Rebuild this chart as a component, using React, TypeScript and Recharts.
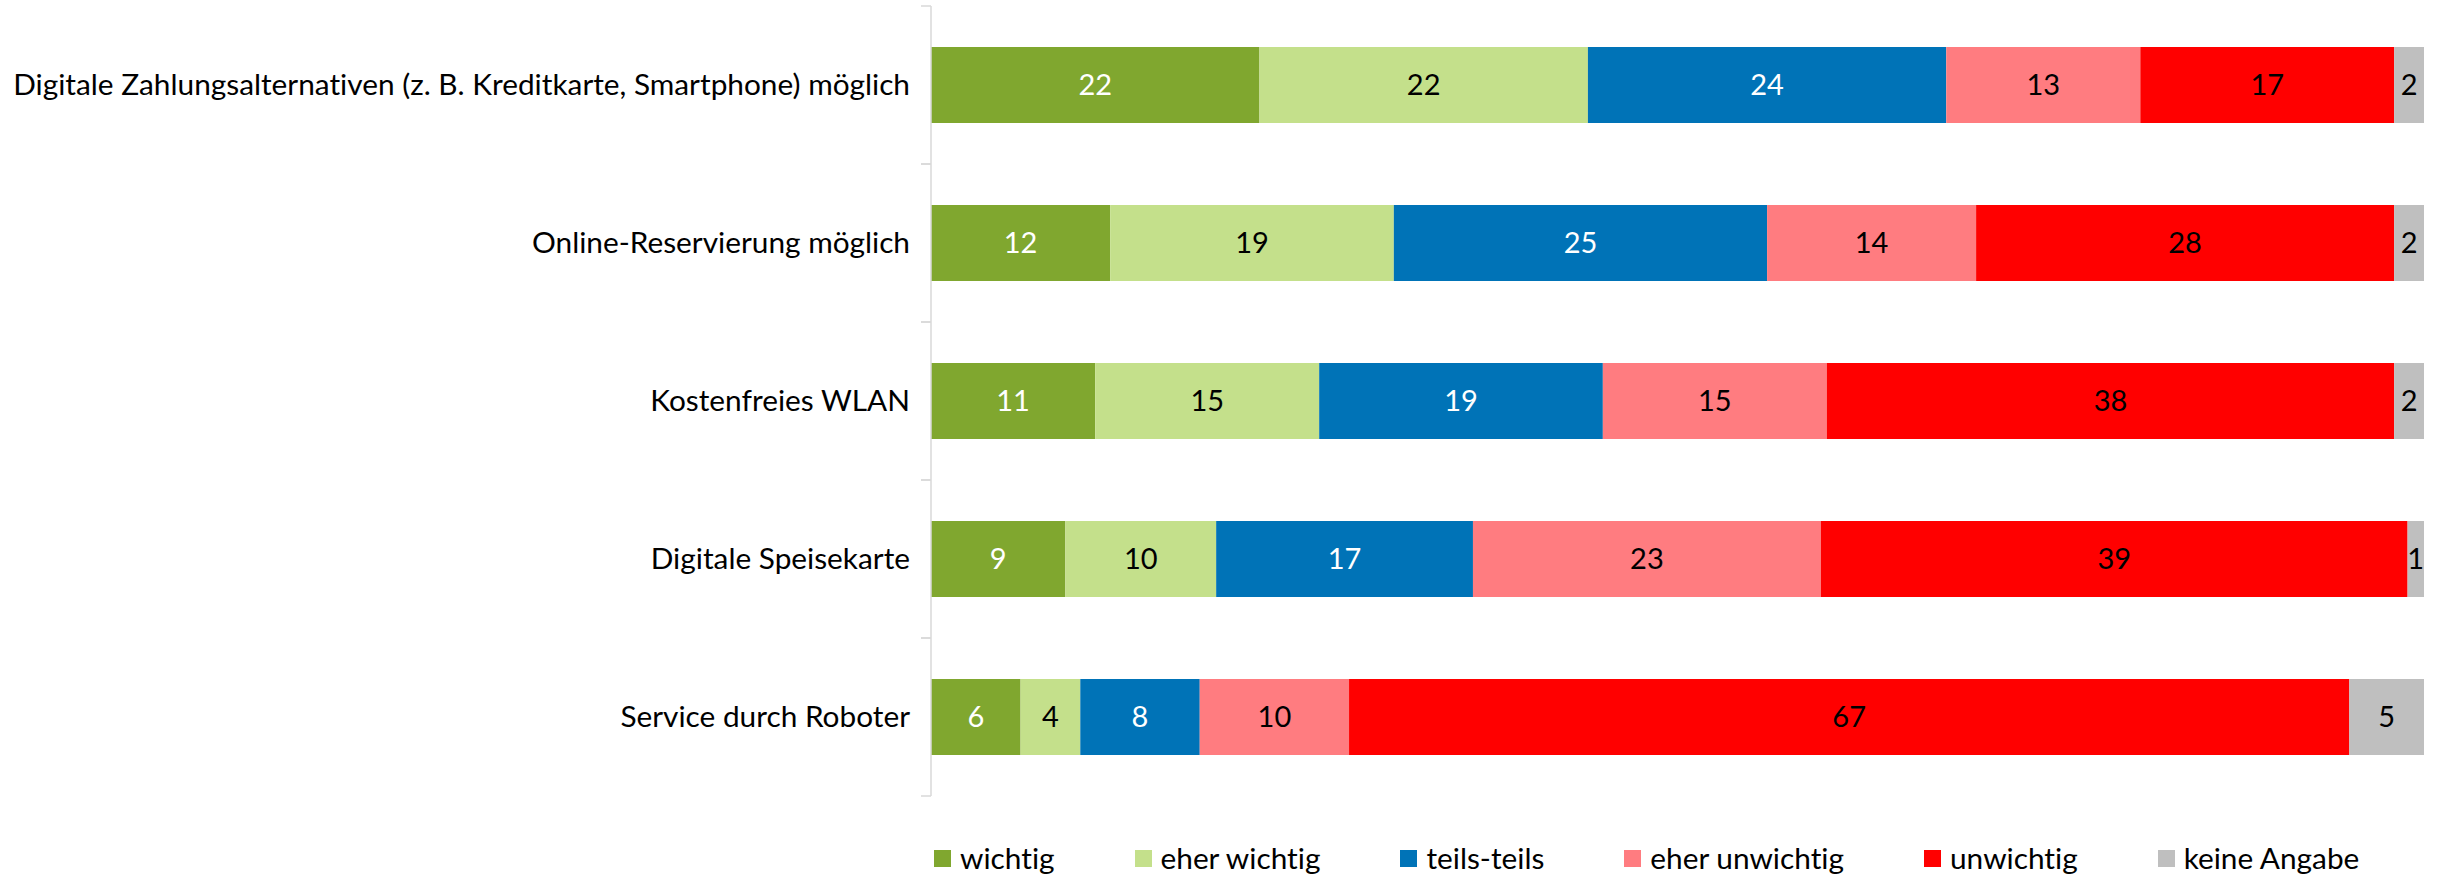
import React from 'react';
import { BarChart, Bar, XAxis, YAxis, LabelList } from 'recharts';

// Kategorien (von oben nach unten)
const categories = [
  'Digitale Zahlungsalternativen (z. B. Kreditkarte, Smartphone) möglich',
  'Online-Reservierung möglich',
  'Kostenfreies WLAN',
  'Digitale Speisekarte',
  'Service durch Roboter',
];

// Werte in Prozent
const wichtig = [22, 12, 11, 9.0, 6];
const eherWichtig = [22, 19, 15, 10.1, 4];
const teilsTeils = [24, 25, 19, 17.2, 8];
const eherUnwichtig = [13, 14, 15, 23.3, 10];
const unwichtig = [17, 28, 38, 39.3, 67];
const keineAngabe = [2, 2, 2, 1.1, 5];

const seriesKeys = ['wichtig', 'eherWichtig', 'teilsTeils', 'eherUnwichtig', 'unwichtig', 'keineAngabe'];
const seriesNames = ['wichtig', 'eher wichtig', 'teils-teils', 'eher unwichtig', 'unwichtig', 'keine Angabe'];
const seriesValues = [wichtig, eherWichtig, teilsTeils, eherUnwichtig, unwichtig, keineAngabe];

const COLORS = ['#80A72F', '#C4E08B', '#0073B7', '#FF7C80', '#FF0000', '#BFBFBF'];
const LABEL_COLORS = ['#FFFFFF', '#000000', '#FFFFFF', '#000000', '#000000', '#000000'];

const data = categories.map((name, i) => {
  const row: Record<string, string | number> = { name };
  seriesKeys.forEach((k, s) => {
    row[k] = seriesValues[s][i];
  });
  return row;
});

const WIDTH = 2443;
const HEIGHT = 875;
const AXIS_X = 931;
const MARGIN = { top: 6, right: 19, bottom: 79, left: 0 };
const PLOT_HEIGHT = HEIGHT - MARGIN.top - MARGIN.bottom;
const AXIS_COLOR = '#D9D9D9';
const FONT = 'Lato, "Open Sans", sans-serif';
const FONT_SIZE = 29.8;
const NO_LIGATURES = { fontVariantLigatures: 'none' as const };

const CategoryTick = (props: any) => {
  const { y, payload } = props;
  const half = PLOT_HEIGHT / categories.length / 2;
  return (
    <g>
      <line x1={AXIS_X - 10} x2={AXIS_X} y1={y - half} y2={y - half} stroke={AXIS_COLOR} strokeWidth={1.5} />
      <line x1={AXIS_X - 10} x2={AXIS_X} y1={y + half} y2={y + half} stroke={AXIS_COLOR} strokeWidth={1.5} />
      <text
        x={AXIS_X - 21}
        y={y}
        dy="0.35em"
        textAnchor="end"
        fill="#000"
        fontFamily={FONT}
        fontSize={FONT_SIZE}
        style={NO_LIGATURES}
      >
        {payload.value}
      </text>
    </g>
  );
};

const ChartLegend = () => (
  <div
    style={{
      position: 'absolute',
      left: 934,
      top: 839,
      display: 'flex',
      gap: 80,
      fontFamily: FONT,
      fontSize: FONT_SIZE,
      lineHeight: '38px',
      color: '#000',
      whiteSpace: 'nowrap',
      ...NO_LIGATURES,
    }}
  >
    {seriesNames.map((n, i) => (
      <div key={n} style={{ display: 'flex', alignItems: 'center', gap: 9 }}>
        <span style={{ display: 'inline-block', width: 17, height: 17, background: COLORS[i] }} />
        <span>{n}</span>
      </div>
    ))}
  </div>
);

export default function App() {
  return (
    <div style={{ position: 'absolute', left: 0, top: 0, width: WIDTH, height: HEIGHT, background: '#fff' }}>
      <BarChart width={WIDTH} height={HEIGHT} data={data} layout="vertical" margin={MARGIN} barSize={76}>
        <XAxis type="number" domain={[0, 100]} hide />
        <YAxis
          type="category"
          dataKey="name"
          width={AXIS_X}
          interval={0}
          tickLine={false}
          axisLine={{ stroke: AXIS_COLOR, strokeWidth: 1.5 }}
          tick={<CategoryTick />}
        />
        {seriesKeys.map((k, i) => (
          <Bar key={k} dataKey={k} name={seriesNames[i]} stackId="a" fill={COLORS[i]} isAnimationActive={false}>
            <LabelList
              dataKey={k}
              position="center"
              fill={LABEL_COLORS[i]}
              fontFamily={FONT}
              fontSize={29}
              formatter={(v: any) => Math.round(Number(v))}
            />
          </Bar>
        ))}
      </BarChart>
      <ChartLegend />
    </div>
  );
}
